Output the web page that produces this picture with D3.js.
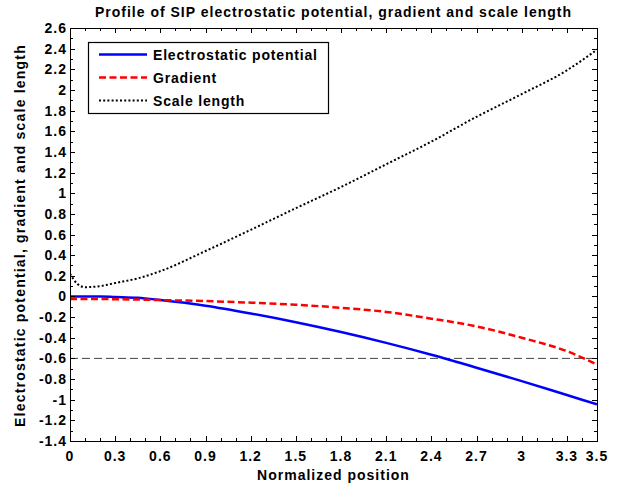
<!DOCTYPE html>
<html>
<head>
<meta charset="utf-8">
<script src="https://cdn.jsdelivr.net/npm/d3@7"></script>
<style>
  html, body { margin: 0; padding: 0; background: #fff; }
  svg text { font-family: "Liberation Sans", Arial, Helvetica, sans-serif; font-weight: bold; font-size: 14px; letter-spacing: 1px; fill: #000; }
</style>
</head>
<body>
<svg id="chart" width="621" height="488"></svg>
<script>
// Normalized positions along the profile
const positions = [0, 0.05, 0.1, 0.2, 0.3, 0.45, 0.6, 0.9, 1.2, 1.5, 1.8, 2.1, 2.4, 2.7, 3.0, 3.3, 3.5];
// Series sampled at those positions
const potential = [0, 0, 0, 0, -0.005, -0.013, -0.035, -0.09, -0.165, -0.25, -0.345, -0.45, -0.565, -0.69, -0.82, -0.955, -1.045];
const gradient  = [-0.025, -0.025, -0.025, -0.025, -0.027, -0.03, -0.035, -0.045, -0.06, -0.08, -0.11, -0.15, -0.215, -0.29, -0.40, -0.53, -0.66];
const scaleLen  = [0.22, 0.12, 0.09, 0.10, 0.13, 0.175, 0.245, 0.44, 0.645, 0.855, 1.06, 1.28, 1.50, 1.74, 1.96, 2.19, 2.39];
const refLevel = -0.6;

const xTickValues = [0, 0.3, 0.6, 0.9, 1.2, 1.5, 1.8, 2.1, 2.4, 2.7, 3, 3.3, 3.5];
const yTickValues = [-1.4, -1.2, -1, -0.8, -0.6, -0.4, -0.2, 0, 0.2, 0.4, 0.6, 0.8, 1, 1.2, 1.4, 1.6, 1.8, 2, 2.2, 2.4, 2.6];
const xMinor = d3.range(0, 36).map(i => i / 10);
const yMinor = d3.range(-14, 27).map(i => i / 10);

const legendNames = ["Electrostatic potential", "Gradient", "Scale length"];
const titleText = "Profile of SIP electrostatic potential, gradient and scale length";
const xLabelText = "Normalized position";
const yLabelText = "Electrostatic potential, gradient and scale length";

const plot = { left: 70, right: 597, top: 28, bottom: 441 };
const svg = d3.select("#chart");

const x = d3.scaleLinear().domain([0, 3.5]).range([plot.left, plot.right]);
const y = d3.scaleLinear().domain([-1.4, 2.6]).range([plot.bottom, plot.top]);

svg.append("defs").append("clipPath").attr("id", "plotClip")
  .append("rect").attr("x", plot.left).attr("y", plot.top)
  .attr("width", plot.right - plot.left).attr("height", plot.bottom - plot.top);

// Reference level
svg.append("line")
  .attr("x1", x(0)).attr("x2", x(3.5))
  .attr("y1", y(refLevel)).attr("y2", y(refLevel))
  .attr("stroke", "#444").attr("stroke-width", 1)
  .attr("stroke-dasharray", "8,4");

const series = [
  { values: potential, color: "#0000ff", dash: null, width: 2.5 },
  { values: gradient, color: "#ff0000", dash: "7,3.5", width: 2.5 },
  { values: scaleLen, color: "#000000", dash: "2,2.2", width: 2 }
];

const line = d3.line().curve(d3.curveMonotoneX);
const g = svg.append("g").attr("clip-path", "url(#plotClip)");
series.forEach(s => {
  g.append("path")
    .attr("d", line(positions.map((p, i) => [x(p), y(s.values[i])])))
    .attr("fill", "none")
    .attr("stroke", s.color)
    .attr("stroke-width", s.width)
    .attr("stroke-dasharray", s.dash);
});

// Axes box with inward ticks on all four sides
const axisG = svg.append("g").attr("stroke", "#000").attr("stroke-width", 1);
axisG.append("rect")
  .attr("x", plot.left + 0.5).attr("y", plot.top + 0.5)
  .attr("width", plot.right - plot.left).attr("height", plot.bottom - plot.top)
  .attr("fill", "none");

const isMajorX = v => xTickValues.some(t => Math.abs(t - v) < 1e-6);
const isMajorY = v => yTickValues.some(t => Math.abs(t - v) < 1e-6);

xMinor.concat([3.5]).forEach(v => {
  const len = isMajorX(v) ? 5 : 3;
  const px = Math.round(x(v)) + 0.5;
  axisG.append("line").attr("x1", px).attr("x2", px).attr("y1", plot.bottom).attr("y2", plot.bottom - len);
  axisG.append("line").attr("x1", px).attr("x2", px).attr("y1", plot.top).attr("y2", plot.top + len);
});
yMinor.forEach(v => {
  const len = isMajorY(v) ? 5 : 3;
  const py = Math.round(y(v)) + 0.5;
  axisG.append("line").attr("y1", py).attr("y2", py).attr("x1", plot.left).attr("x2", plot.left + len);
  axisG.append("line").attr("y1", py).attr("y2", py).attr("x1", plot.right).attr("x2", plot.right - len);
});

// Tick labels
const fmt = v => String(+v.toFixed(2));
svg.append("g").selectAll("text").data(xTickValues).join("text")
  .attr("x", d => x(d)).attr("y", 461)
  .attr("text-anchor", "middle")
  .text(fmt);
svg.append("g").selectAll("text").data(yTickValues).join("text")
  .attr("x", 67).attr("y", d => y(d))
  .attr("dy", "0.36em")
  .attr("text-anchor", "end")
  .text(fmt);

// Titles
svg.append("text").attr("x", (plot.left + plot.right) / 2).attr("y", 17)
  .attr("text-anchor", "middle").text(titleText);
svg.append("text").attr("x", (plot.left + plot.right) / 2).attr("y", 480)
  .attr("text-anchor", "middle").text(xLabelText);
svg.append("text")
  .attr("transform", `translate(25,${(plot.top + plot.bottom) / 2 + 1}) rotate(-90)`)
  .attr("text-anchor", "middle")
  .style("letter-spacing", "1.2px")
  .text(yLabelText);

// Legend
const legend = svg.append("g");
legend.append("rect")
  .attr("x", 88.5).attr("y", 42.5).attr("width", 240).attr("height", 71)
  .attr("fill", "#fff").attr("stroke", "#000").attr("stroke-width", 1.2);
legendNames.forEach((name, i) => {
  const s = series[i];
  const ly = 54.5 + i * 23;
  legend.append("line")
    .attr("x1", 99).attr("x2", 147).attr("y1", ly).attr("y2", ly)
    .attr("stroke", s.color).attr("stroke-width", s.width)
    .attr("stroke-dasharray", s.dash);
  legend.append("text")
    .attr("x", 153).attr("y", ly).attr("dy", "0.36em")
    .style("letter-spacing", "0.8px")
    .text(name);
});
</script>
</body>
</html>
